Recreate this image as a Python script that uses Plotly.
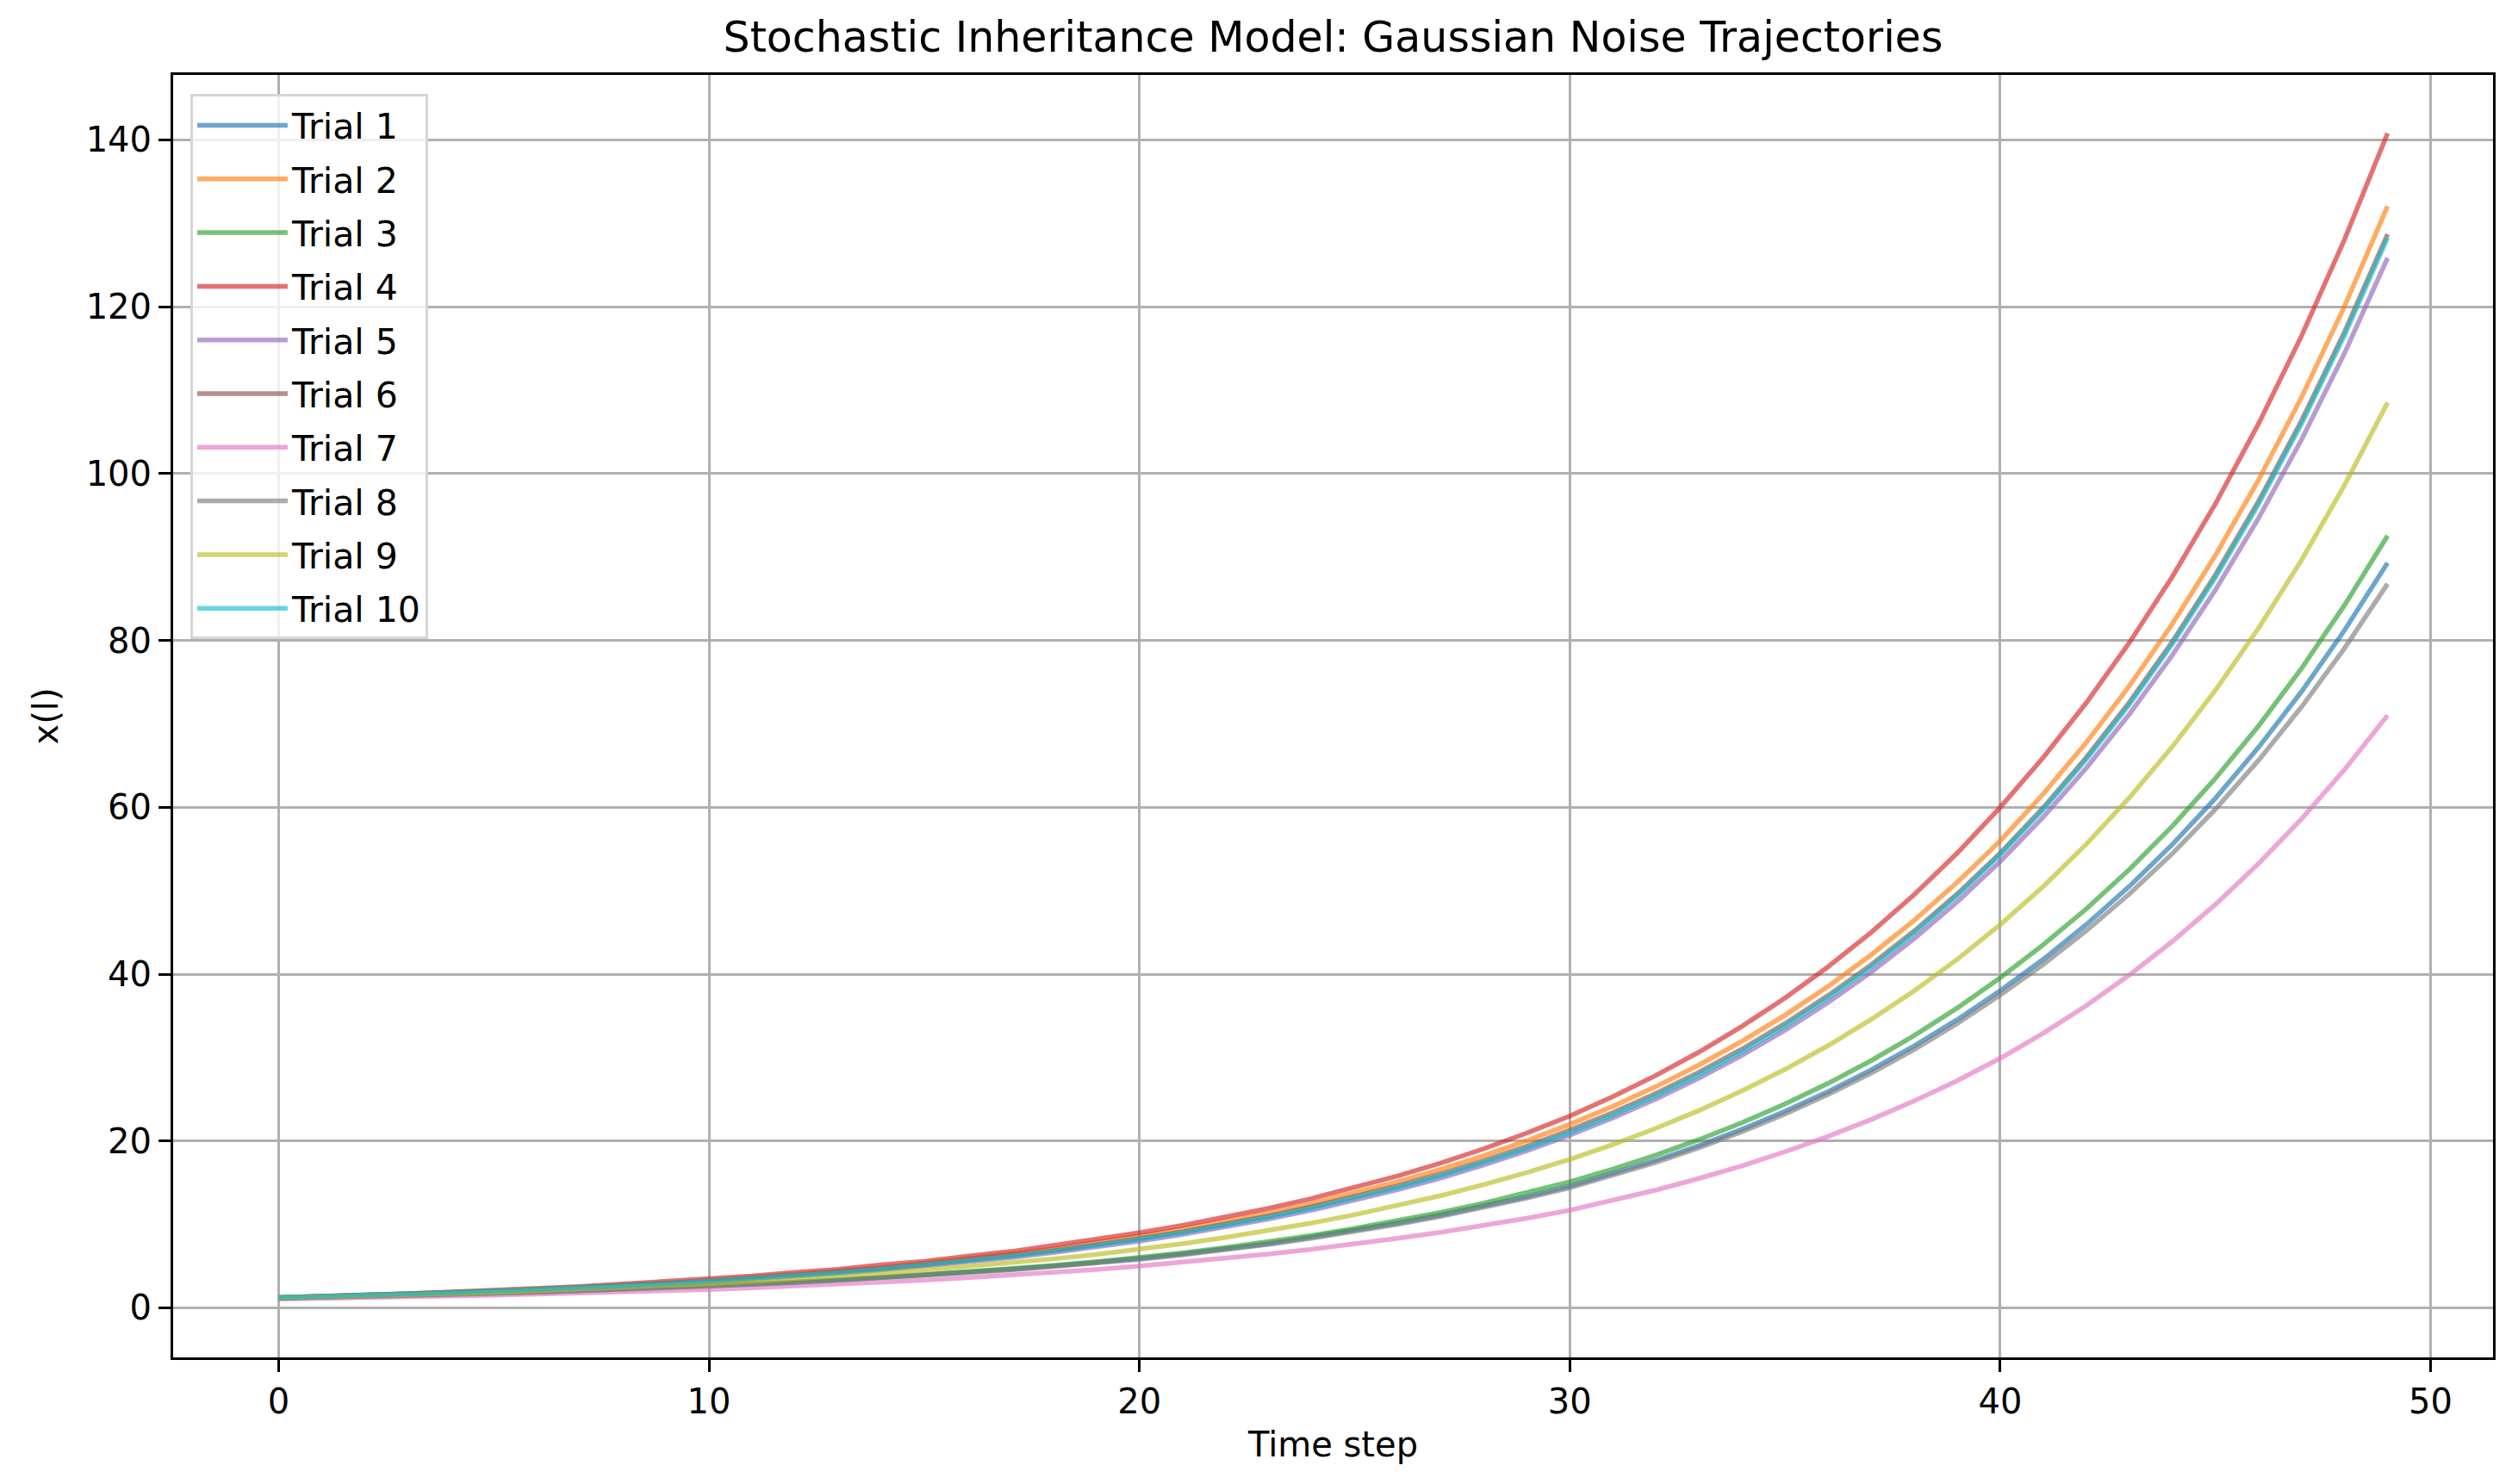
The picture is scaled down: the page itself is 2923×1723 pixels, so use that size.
import plotly.graph_objects as go

time_steps = list(range(50))

trial_names = ["Trial 1", "Trial 2", "Trial 3", "Trial 4", "Trial 5",
               "Trial 6", "Trial 7", "Trial 8", "Trial 9", "Trial 10"]

trial_1 = [1.15, 1.25, 1.35, 1.47, 1.60, 1.72, 1.88, 2.03, 2.21, 2.40, 2.60,
           2.82, 3.06, 3.33, 3.64, 3.92, 4.22, 4.62, 5.01, 5.44, 5.90,
           6.46, 7.07, 7.70, 8.48, 9.30, 10.16, 11.12, 12.18, 13.33, 14.60,
           16.07, 17.68, 19.45, 21.41, 23.56, 25.92, 28.52, 31.39, 34.54, 38.01,
           41.78, 45.94, 50.52, 55.55, 61.08, 67.17, 73.86, 81.21, 89.30]
trial_2 = [1.20, 1.33, 1.46, 1.63, 1.80, 1.98, 2.21, 2.43, 2.70, 2.97, 3.30,
           3.64, 3.99, 4.41, 4.83, 5.34, 5.85, 6.46, 7.09, 7.82, 8.60,
           9.45, 10.38, 11.40, 12.52, 13.76, 15.11, 16.60, 18.23, 20.03, 22.00,
           24.15, 26.52, 29.11, 31.96, 35.09, 38.53, 42.30, 46.44, 50.99, 55.98,
           61.60, 67.76, 74.54, 81.99, 90.19, 99.21, 109.13, 120.04, 132.05]
trial_3 = [1.20, 1.30, 1.40, 1.52, 1.63, 1.77, 1.91, 2.07, 2.22, 2.41, 2.60,
           2.83, 3.07, 3.34, 3.63, 3.95, 4.29, 4.67, 5.08, 5.52, 6.00,
           6.58, 7.22, 7.92, 8.68, 9.52, 10.44, 11.45, 12.56, 13.77, 15.10,
           16.63, 18.31, 20.16, 22.20, 24.44, 26.91, 29.63, 32.63, 35.93, 39.56,
           43.52, 47.82, 52.55, 57.75, 63.46, 69.74, 76.64, 84.22, 92.55]
trial_4 = [1.25, 1.37, 1.55, 1.69, 1.90, 2.08, 2.33, 2.55, 2.87, 3.14, 3.50,
           3.82, 4.26, 4.62, 5.15, 5.58, 6.20, 6.75, 7.48, 8.18, 9.00,
           9.89, 10.86, 11.93, 13.10, 14.39, 15.81, 17.36, 19.07, 20.95, 23.00,
           25.31, 27.86, 30.66, 33.75, 37.14, 40.88, 44.99, 49.52, 54.50, 59.99,
           65.96, 72.52, 79.73, 87.65, 96.37, 105.95, 116.48, 128.06, 140.79]
trial_5 = [1.15, 1.26, 1.41, 1.54, 1.72, 1.88, 2.09, 2.30, 2.55, 2.80, 3.10,
           3.41, 3.75, 4.12, 4.53, 4.98, 5.47, 6.02, 6.62, 7.27, 8.00,
           8.80, 9.68, 10.64, 11.70, 12.87, 14.15, 15.56, 17.11, 18.82, 20.70,
           22.76, 25.03, 27.52, 30.26, 33.28, 36.59, 40.24, 44.25, 48.65, 53.50,
           58.83, 64.70, 71.15, 78.24, 86.04, 94.62, 104.05, 114.43, 125.84]
trial_6 = [1.25, 1.38, 1.50, 1.66, 1.83, 2.00, 2.20, 2.42, 2.65, 2.91, 3.20,
           3.52, 3.87, 4.26, 4.69, 5.15, 5.67, 6.24, 6.86, 7.55, 8.30,
           9.12, 10.02, 11.01, 12.10, 13.29, 14.61, 16.05, 17.64, 19.38, 21.30,
           23.40, 25.70, 28.24, 31.02, 34.07, 37.43, 41.11, 45.16, 49.61, 54.50,
           59.96, 65.97, 72.58, 79.85, 87.85, 96.65, 106.33, 116.98, 128.70]
trial_7 = [1.05, 1.12, 1.22, 1.30, 1.42, 1.51, 1.64, 1.76, 1.90, 2.04, 2.20,
           2.39, 2.59, 2.81, 3.06, 3.32, 3.60, 3.91, 4.24, 4.60, 5.00,
           5.44, 5.93, 6.45, 7.02, 7.65, 8.33, 9.06, 9.87, 10.74, 11.70,
           12.85, 14.12, 15.51, 17.03, 18.71, 20.55, 22.57, 24.79, 27.23, 29.91,
           32.92, 36.24, 39.89, 43.92, 48.35, 53.23, 58.60, 64.51, 71.02]
trial_8 = [1.15, 1.24, 1.36, 1.46, 1.60, 1.73, 1.87, 2.04, 2.20, 2.40, 2.58,
           2.80, 3.03, 3.29, 3.57, 3.87, 4.20, 4.55, 4.93, 5.35, 5.80,
           6.35, 6.96, 7.62, 8.34, 9.14, 10.01, 10.96, 12.01, 13.15, 14.40,
           15.85, 17.44, 19.19, 21.11, 23.23, 25.57, 28.13, 30.96, 34.07, 37.49,
           41.16, 45.19, 49.60, 54.45, 59.77, 65.61, 72.02, 79.06, 86.78]
trial_9 = [1.20, 1.30, 1.44, 1.56, 1.71, 1.86, 2.05, 2.22, 2.44, 2.65, 2.90,
           3.17, 3.46, 3.78, 4.13, 4.51, 4.92, 5.38, 5.87, 6.41, 7.01,
           7.69, 8.44, 9.26, 10.17, 11.16, 12.25, 13.45, 14.77, 16.21, 17.80,
           19.57, 21.52, 23.65, 26.01, 28.59, 31.43, 34.56, 37.99, 41.77, 45.92,
           50.50, 55.57, 61.14, 67.27, 74.02, 81.45, 89.62, 98.61, 108.50]
trial_10 = [1.25, 1.37, 1.51, 1.65, 1.82, 2.01, 2.19, 2.42, 2.66, 2.90, 3.20,
            3.52, 3.86, 4.24, 4.66, 5.12, 5.63, 6.18, 6.80, 7.47, 8.20,
            9.01, 9.90, 10.87, 11.95, 13.12, 14.42, 15.84, 17.40, 19.12, 21.00,
            23.09, 25.40, 27.93, 30.71, 33.77, 37.14, 40.84, 44.92, 49.39, 54.32,
            59.74, 65.73, 72.31, 79.56, 87.53, 96.30, 105.95, 116.57, 128.25]

x_ticks = [0, 10, 20, 30, 40, 50]
y_ticks = [0, 20, 40, 60, 80, 100, 120, 140]

colors = ["#1f77b4", "#ff7f0e", "#2ca02c", "#d62728", "#9467bd",
          "#8c564b", "#e377c2", "#7f7f7f", "#bcbd22", "#17becf"]

series = [trial_1, trial_2, trial_3, trial_4, trial_5,
          trial_6, trial_7, trial_8, trial_9, trial_10]

FONT = "DejaVu Sans"
W, H = 2923, 1723
L, R, T, B = 193, 37, 79, 155

fig = go.Figure()
for name, vals, col in zip(trial_names, series, colors):
    fig.add_trace(go.Scatter(
        x=time_steps, y=vals, mode="lines", name=name,
        line=dict(color=col, width=5.5), opacity=0.65,
        legendgroup=name,
    ))

all_vals = [v for s in series for v in s]
ymin, ymax = min(all_vals), max(all_vals)
ypad = 0.05 * (ymax - ymin)
xmin, xmax = min(time_steps), max(time_steps)
xpad = 0.05 * (xmax - xmin)

axis_common = dict(
    showline=True, mirror=True, linecolor="black", linewidth=3,
    showgrid=True, gridcolor="#b0b0b0", gridwidth=3,
    zeroline=False,
    ticks="outside", ticklen=14, tickwidth=3, tickcolor="black",
    tickfont=dict(family=FONT, size=40, color="black"),
)

fig.update_layout(
    width=W, height=H,
    paper_bgcolor="white", plot_bgcolor="white",
    margin=dict(l=L, r=R, t=T, b=B),
    font=dict(family=FONT, size=40, color="black"),
    title=dict(text="Stochastic Inheritance Model: Gaussian Noise Trajectories",
               x=(L + (W - L - R) / 2) / W, xanchor="center",
               y=0.980, yanchor="middle",
               font=dict(family=FONT, size=49, color="black")),
    xaxis=dict(range=[xmin - xpad, xmax + xpad], tickvals=x_ticks,
               title=dict(text="Time step", standoff=14,
                          font=dict(family=FONT, size=40, color="black")),
               **axis_common),
    yaxis=dict(range=[ymin - ypad, ymax + ypad], tickvals=y_ticks,
               title=dict(text="x(l)", standoff=20,
                          font=dict(family=FONT, size=40, color="black")),
               **axis_common),
    legend=dict(x=0.0074, y=0.985, xanchor="left", yanchor="top",
                bgcolor="rgba(255,255,255,0.8)", bordercolor="#d6d6d6",
                borderwidth=3, font=dict(family=FONT, size=41, color="black"),
                tracegroupgap=6, traceorder="grouped", itemwidth=105),
)

fig.write_html("out.html")
